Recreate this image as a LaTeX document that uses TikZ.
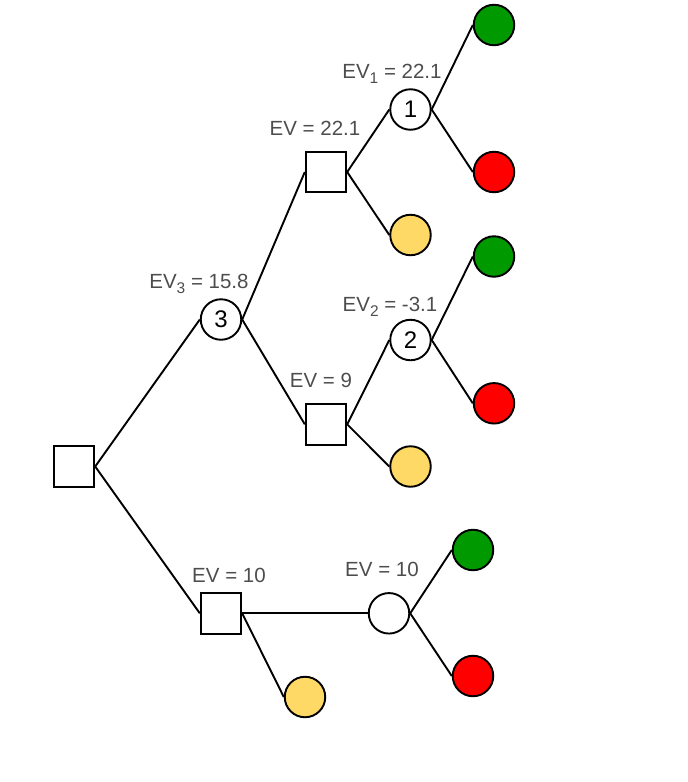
\documentclass[tikz,border=0pt]{standalone}
\usepackage{fontspec}
\setmainfont{Liberation Sans}

\definecolor{wingreen}{HTML}{009900}
\definecolor{losered}{HTML}{FF0000}
\definecolor{keepyellow}{HTML}{FFD966}
\definecolor{evgray}{HTML}{4D4D4D}
\newcommand*\evsub[1]{\raisebox{-5pt}{\fontsize{15.5}{15.5}\selectfont #1}}

\begin{document}
\begin{tikzpicture}[x=1pt,y=-1pt]
        \tikzstyle{every path}=[line width=1.9pt]
        \useasboundingbox (0,0) rectangle (688,782);

        \edef\sizenode{40.5pt}
        \tikzstyle{decision}=[draw,fill=white,minimum size=\sizenode,inner sep=0pt]
        \tikzstyle{chance}=[draw,circle,fill=white,minimum size=\sizenode,inner sep=0pt,font=\fontsize{24}{24}\selectfont]
        \tikzstyle{win}=[draw,circle,fill=wingreen,minimum size=\sizenode]
        \tikzstyle{lose}=[draw,circle,fill=losered,minimum size=\sizenode]
        \tikzstyle{keep}=[draw,circle,fill=keepyellow,minimum size=\sizenode]
        \tikzstyle{ev}=[anchor=base,inner sep=0pt,text=evgray,font=\fontsize{20.5}{21}\selectfont]

        \node [decision] (root) at (74,466.5) {};
        \node [chance]   (c3)   at (221,319.5) {3};

        \node [decision] (dA) at (326,172) {};       % top branch
        \node [chance]   (c1) at (410.5,109.5) {1};
        \node [win]      (g1) at (494,25) {};
        \node [lose]     (r1) at (494,172) {};
        \node [keep]     (yA) at (410.5,235) {};

        \node [decision] (dB) at (326,424.3) {};     % middle branch
        \node [chance]   (c2) at (410.5,340) {2};
        \node [win]      (g2) at (494,256.5) {};
        \node [lose]     (r2) at (494,403.3) {};
        \node [keep]     (yB) at (410.5,466.5) {};

        \node [decision] (dC) at (221,613.3) {};     % bottom branch
        \node [chance]   (cC) at (389,613.3) {};
        \node [win]      (g3) at (473,550) {};
        \node [lose]     (r3) at (473,676) {};
        \node [keep]     (yC) at (305,697) {};

        \foreach \a/\b in {root/c3, root/dC, c3/dA, c3/dB, dA/c1, dA/yA, c1/g1, c1/r1,
                           dB/c2, dB/yB, c2/g2, c2/r2, dC/cC, dC/yC, cC/g3, cC/r3} {
            \draw (\a.east) -- (\b.west);
        };

        \node [ev] (ev1)  at (392,78)    {EV\evsub{1} = 22.1};
        \node [ev] (evA)  at (315,135)   {EV = 22.1};
        \node [ev] (ev3)  at (199,288)   {EV\evsub{3} = 15.8};
        \node [ev] (ev2)  at (390,311.5) {EV\evsub{2} = -3.1};
        \node [ev] (evB)  at (321,387)   {EV = 9};
        \node [ev] (evC)  at (229,582)   {EV = 10};
        \node [ev] (evCC) at (382,576)   {EV = 10};
        \end{tikzpicture}
\end{document}
